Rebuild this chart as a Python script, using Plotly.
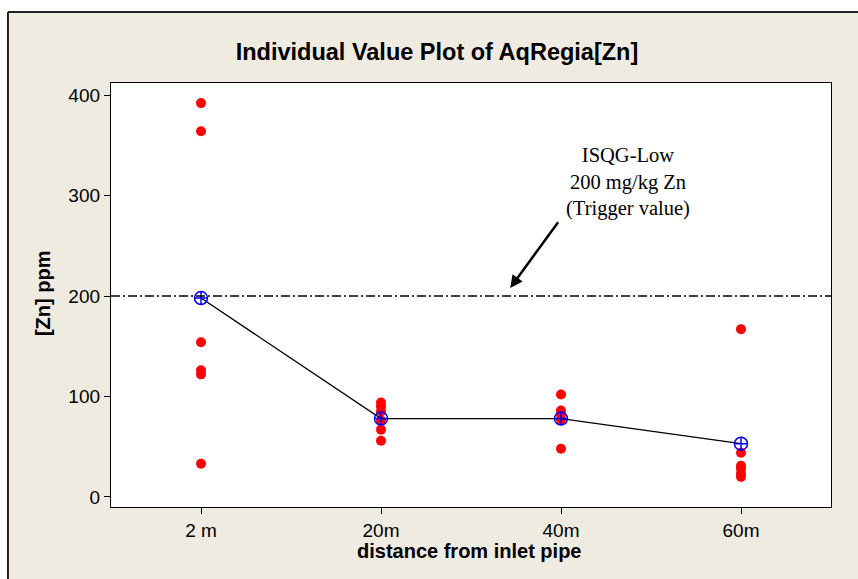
import plotly.graph_objects as go

categories = ["2 m", "20m", "40m", "60m"]
values_2m = [392, 364, 154, 126, 122, 33]
values_20m = [94, 90, 85, 76, 67, 56]
values_40m = [102, 86, 82, 77, 48]
values_60m = [167, 44, 31, 28, 23, 20]
group_means = [198, 78, 78, 53]
trigger_value = 200
y_ticks = [0, 100, 200, 300, 400]

groups = [values_2m, values_20m, values_40m, values_60m]
xs, ys = [], []
for cat, vals in zip(categories, groups):
    xs += [cat] * len(vals)
    ys += vals

BEIGE = "#EFEBE1"
fig = go.Figure()
fig.add_trace(go.Scatter(
    x=xs, y=ys, mode="markers",
    marker=dict(color="#FF0000", size=10, line=dict(width=0)),
    showlegend=False, hoverinfo="x+y"))
fig.add_trace(go.Scatter(
    x=categories, y=group_means, mode="lines+markers",
    line=dict(color="black", width=1.3),
    marker=dict(symbol="circle-cross-open", size=13, color="#0000FF",
                line=dict(width=1.5, color="#0000FF")),
    showlegend=False))

# reference line
fig.add_shape(type="line", xref="paper", x0=0, x1=1, yref="y",
              y0=trigger_value, y1=trigger_value,
              line=dict(color="black", width=1.7, dash="9px,3px,2px,3px"))

# outer frame (white outside, dark border)
fig.add_shape(type="rect", xref="paper", yref="paper", x0=-0.3, x1=-0.1431,
              y0=-0.5, y1=1.5, fillcolor="white", line=dict(width=0), layer="below")
fig.add_shape(type="rect", xref="paper", yref="paper", x0=-0.3, x1=1.3,
              y0=1.1675, y1=1.5, fillcolor="white", line=dict(width=0), layer="below")
fig.add_shape(type="line", xref="paper", yref="paper", x0=-0.1431, x1=1.3,
              y0=1.1675, y1=1.1675, line=dict(color="#222222", width=2))
fig.add_shape(type="line", xref="paper", yref="paper", x0=-0.1431, x1=-0.1431,
              y0=-0.5, y1=1.1675, line=dict(color="#222222", width=2))

# annotation text + arrow
fig.add_annotation(x=2.37, y=313, xref="x", yref="y",
                   text="ISQG-Low<br>200 mg/kg Zn<br>(Trigger value)",
                   showarrow=False, align="center",
                   font=dict(family="Liberation Serif, Times New Roman, serif", size=20.5, color="black"))
fig.add_annotation(x=1.718, y=208, xref="x", yref="y", ax=1.99, ay=275,
                   axref="x", ayref="y", text="", showarrow=True,
                   arrowhead=2, arrowsize=1, arrowwidth=2.5, arrowcolor="black")

# axis titles
fig.add_annotation(x=0.497, y=-0.1038, xref="paper", yref="paper",
                   text="<b>distance from inlet pipe</b>", showarrow=False,
                   xanchor="center", yanchor="middle",
                   font=dict(family="Liberation Sans, Arial, sans-serif", size=20, color="black"))
fig.add_annotation(x=-0.0944, y=0.5047, xref="paper", yref="paper",
                   text="<b>[Zn] ppm</b>", showarrow=False, textangle=-90,
                   xanchor="center", yanchor="middle",
                   font=dict(family="Liberation Sans, Arial, sans-serif", size=20, color="black"))

fig.update_layout(
    width=858, height=579,
    margin=dict(l=111, r=27, t=83, b=72),
    paper_bgcolor=BEIGE, plot_bgcolor="white",
    title=dict(text="<b>Individual Value Plot of AqRegia[Zn]</b>",
               x=(437 - 111) / 720, xref="paper", xanchor="center",
               y=1 - 52 / 579, yref="container", yanchor="middle",
               font=dict(family="Liberation Sans, Arial, sans-serif",
                         size=23.5, color="black")),
    font=dict(family="Liberation Sans, Arial, sans-serif", size=18, color="black"),
    xaxis=dict(type="category", categoryorder="array", categoryarray=categories,
               range=[-0.5, 3.5], showline=True, linecolor="black", linewidth=1.3,
               mirror=True, ticks="outside", ticklen=6, tickcolor="black",
               showgrid=False, zeroline=False, tickfont=dict(size=19)),
    yaxis=dict(range=[-10, 412], tickvals=y_ticks, showline=True, linecolor="black",
               linewidth=1.3, mirror=True, ticks="outside", ticklen=6, tickcolor="black",
               showgrid=False, zeroline=False, tickfont=dict(size=19)),
)

fig.write_html("out.html", config={"displayModeBar": False},
               post_script="document.body.style.margin='0';")
